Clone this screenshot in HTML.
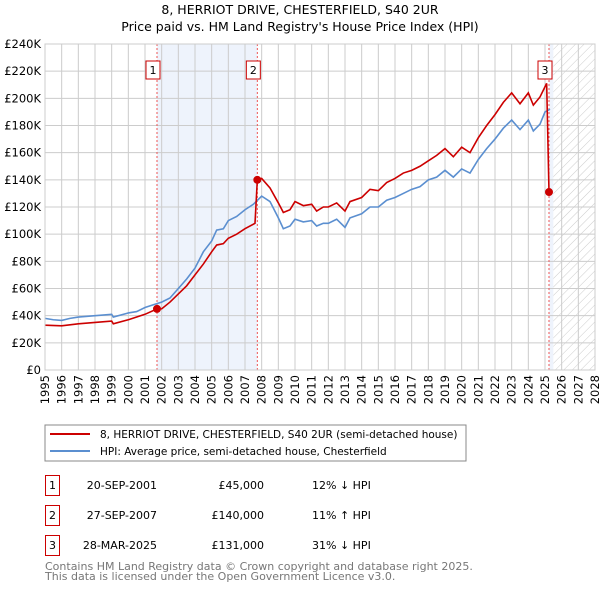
<!DOCTYPE html>
<html><head><meta charset="utf-8"><style>
body{margin:0;background:#fff;font-family:"Liberation Sans","DejaVu Sans",sans-serif;}
svg{display:block}
</style></head><body>
<svg id="c" width="600" height="590" xmlns="http://www.w3.org/2000/svg" font-family="DejaVu Sans, Liberation Sans, sans-serif">
<defs>
<pattern id="hatch" width="6" height="6" patternUnits="userSpaceOnUse" patternTransform="rotate(45)">
<line x1="0" y1="0" x2="0" y2="6" stroke="#ccc" stroke-width="1"/></pattern>
</defs>
<text x="300" y="14" text-anchor="middle" font-size="12.5">8, HERRIOT DRIVE, CHESTERFIELD, S40 2UR</text>
<text x="300" y="31" text-anchor="middle" font-size="12.5">Price paid vs. HM Land Registry's House Price Index (HPI)</text>
<g id="grid"></g>
<g id="marks"></g>
<g id="axes"></g>
<rect x="45" y="425" width="421" height="36" fill="#fff" stroke="#888"/>
<line x1="50" y1="434" x2="90" y2="434" stroke="#cc0000" stroke-width="2"/>
<text x="100" y="438" font-size="10.5">8, HERRIOT DRIVE, CHESTERFIELD, S40 2UR (semi-detached house)</text>
<line x1="50" y1="451" x2="90" y2="451" stroke="#5b8fd0" stroke-width="2"/>
<text x="100" y="455" font-size="10.5">HPI: Average price, semi-detached house, Chesterfield</text>
<g font-size="11">
<rect x="45.5" y="475.5" width="14" height="20" fill="#fff" stroke="#cc0000"/><text x="52.5" y="489" text-anchor="middle">1</text>
<text x="157" y="489" text-anchor="end">20-SEP-2001</text><text x="264" y="489" text-anchor="end">£45,000</text><text x="312" y="489">12% ↓ HPI</text>
<rect x="45.5" y="505.5" width="14" height="20" fill="#fff" stroke="#cc0000"/><text x="52.5" y="519" text-anchor="middle">2</text>
<text x="157" y="519" text-anchor="end">27-SEP-2007</text><text x="264" y="519" text-anchor="end">£140,000</text><text x="312" y="519">11% ↑ HPI</text>
<rect x="45.5" y="535.5" width="14" height="20" fill="#fff" stroke="#cc0000"/><text x="52.5" y="549" text-anchor="middle">3</text>
<text x="157" y="549" text-anchor="end">28-MAR-2025</text><text x="264" y="549" text-anchor="end">£131,000</text><text x="312" y="549">31% ↓ HPI</text>
</g>
<text x="45" y="570" font-size="11" fill="#777">Contains HM Land Registry data © Crown copyright and database right 2025.</text>
<text x="45" y="580" font-size="11" fill="#777">This data is licensed under the Open Government Licence v3.0.</text>
</svg>
<script>
const yTicks=[0,20,40,60,80,100,120,140,160,180,200,220,240];
const xYears=[1995,1996,1997,1998,1999,2000,2001,2002,2003,2004,2005,2006,2007,2008,2009,2010,2011,2012,2013,2014,2015,2016,2017,2018,2019,2020,2021,2022,2023,2024,2025,2026,2027,2028];
const hpiYears=[1995,1995.5,1996,1996.5,1997,1998,1999,1999.1,2000,2000.5,2001,2001.5,2002,2002.5,2003,2003.5,2004,2004.5,2005,2005.3,2005.7,2006,2006.5,2007,2007.5,2008,2008.5,2009,2009.3,2009.7,2010,2010.5,2011,2011.3,2011.7,2012,2012.5,2013,2013.3,2014,2014.5,2015,2015.5,2016,2016.5,2017,2017.5,2018,2018.5,2019,2019.5,2020,2020.5,2021,2021.5,2022,2022.5,2023,2023.5,2024,2024.3,2024.7,2025,2025.3];
const hpiValues=[38,37,36.5,38,39,40,41,39,42,43,46,48,50,53,60,67,75,87,95,103,104,110,113,118,122,128,124,112,104,106,111,109,110,106,108,108,111,105,112,115,120,120,125,127,130,133,135,140,142,147,142,148,145,155,163,170,178,184,177,184,176,181,190,192];
const propYears=[1995,1996,1997,1998,1999,1999.1,2000,2001,2001.72,2002,2002.5,2003,2003.5,2004,2004.5,2005,2005.3,2005.7,2006,2006.5,2007,2007.6,2007.74,2008,2008.5,2009,2009.3,2009.7,2010,2010.5,2011,2011.3,2011.7,2012,2012.5,2013,2013.3,2014,2014.5,2015,2015.5,2016,2016.5,2017,2017.5,2018,2018.5,2019,2019.5,2020,2020.5,2021,2021.5,2022,2022.5,2023,2023.5,2024,2024.3,2024.7,2025.1,2025.24];
const propValues=[33,32.5,34,35,36,34,37,41,45,45,50,56,62,70,78,87,92,93,97,100,104,108,140,141,134,123,116,118,124,121,122,117,120,120,123,117,124,127,133,132,138,141,145,147,150,154,158,163,157,164,160,171,180,188,197,204,196,204,195,201,211,131];
const saleYears=[2001.72,2007.74,2025.24];
const saleValues=[45,140,131];
const saleLabels=["1","2","3"];

const NS="http://www.w3.org/2000/svg";
const L=45,R=595,T=44,B=370;
const X=y=>L+(y-1995)*(R-L)/33;
const Y=v=>B-v*(B-T)/240;
function mk(tag,attrs,parent){const e=document.createElementNS(NS,tag);for(const k in attrs)e.setAttribute(k,attrs[k]);parent.appendChild(e);return e;}
const grid=document.getElementById('grid'),marks=document.getElementById('marks'),axes=document.getElementById('axes');
const sh=mk('rect',{x:X(saleYears[0]),y:T,width:X(saleYears[1])-X(saleYears[0]),height:B-T,fill:'#eef3fc'},grid);


const sh2=mk('rect',{x:X(saleYears[2]),y:T,width:X(2025.5)-X(saleYears[2]),height:B-T,fill:'#eef3fc'},grid);


const ht=mk('rect',{x:X(2025.5),y:T,width:R-X(2025.5),height:B-T,fill:'url(#hatch)'},grid);


yTicks.forEach(v=>{
 const g=mk('line',{x1:L,x2:R,y1:Y(v),y2:Y(v),stroke:'#ccc','stroke-width':1},grid);
 
 
 const t=mk('text',{x:L-4,y:Y(v)+4,'text-anchor':'end','font-size':11.5},axes);
 t.textContent=v===0?'£0':'£'+v+'K';
 
 
});
xYears.forEach(yr=>{
 const g=mk('line',{x1:X(yr),x2:X(yr),y1:T,y2:B,stroke:'#ccc','stroke-width':1},grid);
 
 
 const t=mk('text',{x:0,y:0,'text-anchor':'end','font-size':11.5,transform:`translate(${X(yr)+4},${B+5}) rotate(-90)`},axes);
 t.textContent=yr;
 
 
});
saleYears.forEach((yr,i)=>{
 const v=mk('line',{x1:X(yr),x2:X(yr),y1:T,y2:B,stroke:'#e55','stroke-width':1,'stroke-dasharray':'2,2'},grid);
 
 
});
const hp=mk('polyline',{points:hpiYears.map((y,i)=>X(y)+','+Y(hpiValues[i])).join(' '),fill:'none',stroke:'#5b8fd0','stroke-width':1.6},marks);


const pp=mk('polyline',{points:propYears.map((y,i)=>X(y)+','+Y(propValues[i])).join(' '),fill:'none',stroke:'#cc0000','stroke-width':1.6},marks);


saleYears.forEach((yr,i)=>{
 const c=mk('circle',{cx:X(yr),cy:Y(saleValues[i]),r:4,fill:'#cc0000'},marks);
 
 
 const bx=mk('rect',{x:X(yr)-11,y:61,width:14,height:18,fill:'#fff',stroke:'#cc0000'},marks);
 
 
 const t=mk('text',{x:X(yr)-4,y:74,'text-anchor':'middle','font-size':11},marks);
 t.textContent=saleLabels[i];
 
 
});
const fr=mk('rect',{x:L,y:T,width:R-L,height:B-T,fill:'none',stroke:'#ccc'},axes);


</script>
</body></html>
